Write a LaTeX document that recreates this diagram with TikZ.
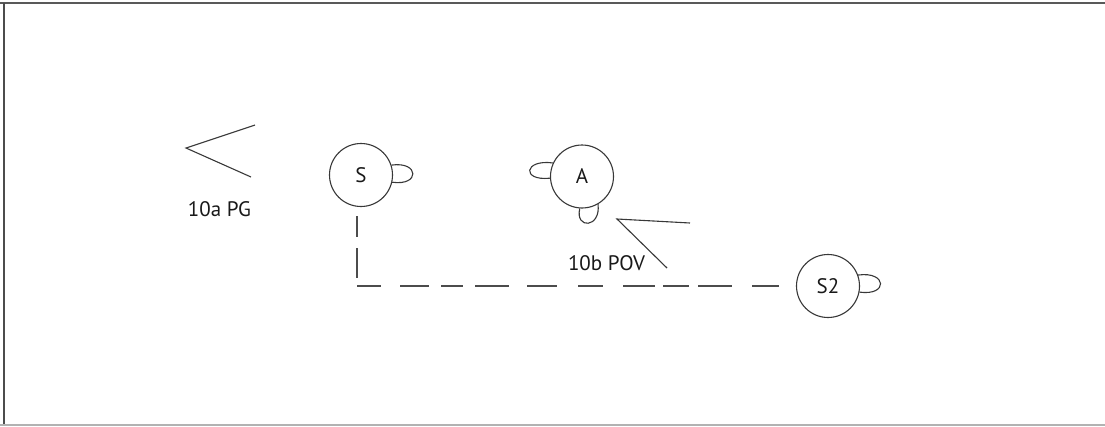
\documentclass[tikz,border=0pt]{standalone}
\usepackage{fontspec}
\setmainfont{PT Sans}
\begin{document}
\begin{tikzpicture}[x=1pt,y=-1pt,
  state/.style={draw=black!78,line width=1.1pt,circle,minimum size=63pt,inner sep=0pt,font=\fontsize{21}{22}\selectfont,text=black!90},
  lbl/.style={font=\fontsize{21}{22}\selectfont,text=black!90,inner sep=0pt},
  stroke/.style={draw=black!78,line width=1.1pt},
  dashline/.style={draw=black!70,line width=1.4pt,dash pattern=on 21pt off 11pt on 30pt off 8pt on 24pt off 19pt on 29pt off 12pt on 22pt off 12pt on 34pt off 18pt on 30pt off 21pt on 25pt off 20pt on 32pt off 8pt on 26pt off 9pt on 34pt off 20pt on 27pt off 10pt}]
\useasboundingbox (0,0) rectangle (1105,426);
% frame
\draw[black!65,line width=1.6pt] (0,3) -- (1105,3);
\draw[black!70,line width=1.4pt] (4,3) -- (4,426);
\draw[black!30,line width=1.2pt] (0,425) -- (1105,425);
% states
\node[state] (S) at (361,175) {S};
\node[state] (A) at (582,176.5) {A};
\node[state] (S2) at (828,286) {S2};
% self loops
\draw[stroke] (S.18) .. controls +(28,-4) and +(28,4) .. (S.-13);
\draw[stroke] (A.155) .. controls +(-29,-4) and +(-29,3) .. (A.183);
\draw[stroke] (A.266) .. controls +(-5,21) and +(3,24) .. (A.300);
\draw[stroke] (S2.20) .. controls +(29,-4) and +(29,4) .. (S2.-11);
% dashed connector
\draw[dashline] ([xshift=-4pt,yshift=-9pt]S.south) |- ([xshift=-16pt]S2.west);
% chevrons
\coordinate (pa1) at (255,125);
\coordinate (pa2) at (186,148);
\coordinate (pa3) at (251,177);
\draw[stroke,line join=miter] (pa1) -- (pa2) -- (pa3);
\coordinate (pb1) at (690,223);
\coordinate (pb2) at (617,219);
\coordinate (pb3) at (667,268);
\draw[stroke,line join=miter] (pb1) -- (pb2) -- (pb3);
% labels
\node[lbl] (la) at (219.5,209) {10a PG};
\node[lbl] (lb) at (606.5,263) {10b POV};
\end{tikzpicture}
\end{document}
